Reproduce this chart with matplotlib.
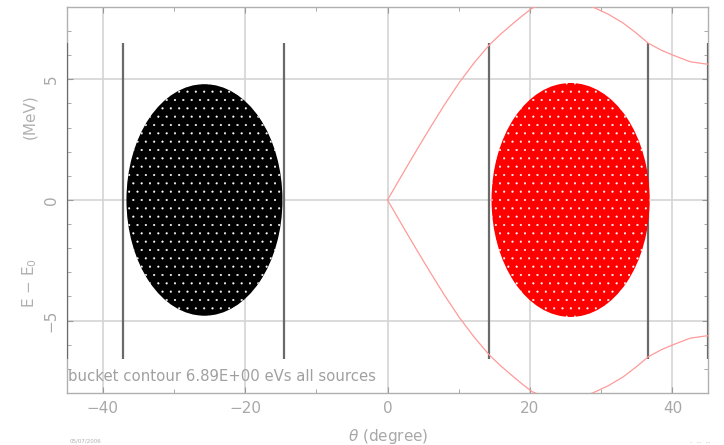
import matplotlib
matplotlib.use("Agg")
import matplotlib.pyplot as plt
from matplotlib.patches import Ellipse
from matplotlib.ticker import MultipleLocator

# ---- data ----
x_ticks = [-40, -20, 0, 20, 40]
y_ticks = [-5, 0, 5]

# bucket separatrix (upper branch), degrees vs MeV
sep_theta = [0, 2.0, 4.0, 6.0, 8.0, 10.1, 12.2, 14.3, 15.9, 17.4, 18.9, 20.3,
             22.5, 24.6, 26.8, 28.8, 31.0, 33.1, 35.0, 36.6, 38.5, 40.1,
             42.5, 44.6, 45.0]
sep_dE = [0, 1.02, 2.02, 3.0, 3.95, 4.88, 5.7, 6.43, 6.88, 7.26, 7.63, 7.95,
          8.2, 8.28, 8.2, 8.0, 7.7, 7.33, 6.9, 6.5, 6.2, 6.0,
          5.73, 5.64, 5.63]

# vertical marker lines (degrees) and their extent (MeV)
marker_x = [-45, -37.1, -14.6, 14.3, 36.6, 45]
marker_ymin = -6.6
marker_ymax = 6.5

# particle clouds: centre (deg, MeV), full width (deg), full height (MeV)
cloud_cx = [-25.7, 25.7]
cloud_cy = [0.0, 0.0]
cloud_w = [21.9, 22.2]
cloud_h = [9.6, 9.7]
cloud_colors = ["#000000", "#ff0000"]

plt.rcParams["hatch.linewidth"] = 0.3

fig = plt.figure(figsize=(7.24, 4.45), dpi=100)
ax = fig.add_axes([0.0925, 0.117, 0.8855, 0.8673])

ax.set_xlim(-45, 45)
ax.set_ylim(-8, 8)

grid_col = "#d4d4d4"
for xv in x_ticks:
    ax.axvline(xv, color=grid_col, lw=1.2, zorder=1)
for yv in y_ticks:
    ax.axhline(yv, color=grid_col, lw=1.2, zorder=1)

ax.vlines(marker_x, marker_ymin, marker_ymax, colors="#6a6a6a", lw=1.6, zorder=3)

for cx, cy, w, h, c in zip(cloud_cx, cloud_cy, cloud_w, cloud_h, cloud_colors):
    e = Ellipse((cx, cy), w, h, facecolor=c, edgecolor="white", lw=0,
                hatch="..", zorder=5)
    ax.add_patch(e)

ax.plot(sep_theta, sep_dE, color="#ff9a9a", lw=0.9, zorder=6)
ax.plot(sep_theta, [-v for v in sep_dE], color="#ff9a9a", lw=0.9, zorder=6)

for s in ax.spines.values():
    s.set_color("#b0b0b0")
    s.set_linewidth(1.0)

ax.set_xticks(x_ticks)
ax.set_yticks(y_ticks)
ax.xaxis.set_minor_locator(MultipleLocator(10))
ax.yaxis.set_minor_locator(MultipleLocator(1))
ax.tick_params(which="both", direction="in", top=True, right=True,
               color="#999999", labelcolor="#a8a8a8", labelsize=11)
ax.tick_params(which="major", length=4)
ax.tick_params(which="minor", length=3)
for lab in ax.get_yticklabels():
    lab.set_rotation(90)
    lab.set_va("center")
ax.tick_params(axis="x", pad=6)
ax.tick_params(axis="y", pad=6)

ax.text(-44.8, -7.3, "bucket contour 6.89E+00 eVs all sources", fontsize=10.7,
        color="#a0a0a0", ha="left", va="center", zorder=7)

fig.text(388 / 724, 1 - 437 / 445, r"$\theta$ (degree)", fontsize=11,
         color="#a8a8a8", ha="center", va="center")
fig.text(30 / 724, 1 - 117 / 445, "(MeV)", fontsize=11, color="#b0b0b0",
         rotation=90, ha="center", va="center")
fig.text(30 / 724, 1 - 283 / 445, r"E $-$ E$_0$", fontsize=11, color="#b0b0b0",
         rotation=90, ha="center", va="center")
fig.text(86 / 724, 1 - 441 / 445, "05/07/2006", fontsize=4, color="#b0b0b0",
         ha="center", va="center")
fig.text(700 / 724, 1 - 441 / 445, ".  ..  ..", fontsize=5, color="#b0b0b0",
         ha="center", va="center")

fig.savefig("out.png", dpi=100)
